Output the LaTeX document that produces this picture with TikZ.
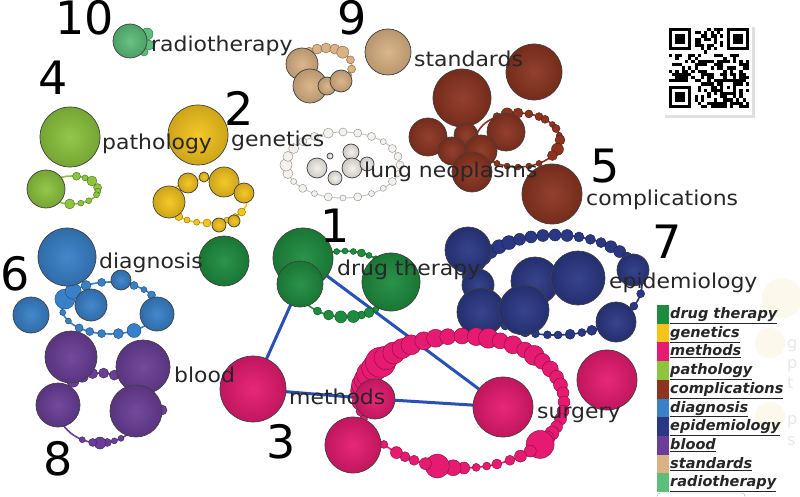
\documentclass[tikz,border=0pt]{standalone}
\usepackage{fontspec}
\setmainfont{DejaVu Sans}
\pgfdeclarelayer{bgl}
\pgfdeclarelayer{edgel}
\pgfsetlayers{bgl,edgel,main}
\definecolor{drugG}{RGB}{30,140,62}
\definecolor{genY}{RGB}{244,196,28}
\definecolor{methP}{RGB}{230,26,112}
\definecolor{pathG}{RGB}{140,196,62}
\definecolor{compR}{RGB}{140,52,32}
\definecolor{diagB}{RGB}{56,128,200}
\definecolor{epiN}{RGB}{42,56,132}
\definecolor{bloodP}{RGB}{106,62,152}
\definecolor{stdT}{RGB}{218,178,132}
\definecolor{radG}{RGB}{92,190,122}
\definecolor{lungW}{RGB}{244,240,235}
\definecolor{lineB}{RGB}{40,80,182}
\definecolor{fadeC}{RGB}{253,248,236}
\newcommand\ballnode[5]{\node[ball=#1, minimum size={2*#5pt}] (#2) at (#3,#4) {};}
\newcommand\beadring[6]{%
  \begin{scope}[shift={(#2,#3)}]
    \draw[ring=#1] (0,0) ellipse [x radius=#4, y radius=#5];
    \foreach \a/\r in {#6} \filldraw[bead=#1] ({#4*cos(\a)},{#5*sin(\a)}) circle [radius=\r pt];
  \end{scope}}
\newcommand\wtxt[1]{\scalebox{1.07}[1]{#1}}
\begin{document}
\begin{tikzpicture}[x=1pt,y=-1pt,
  ball/.style={circle, draw=black!75, line width=0.7pt, inner sep=0pt, outer sep=0pt, inner color=#1!94!white, outer color=#1!84!black},
  ring/.style={draw=#1, line width=1.6pt},
  bead/.style={fill=#1, draw=#1!55!black, line width=0.4pt},
  edge/.style={draw=lineB, line width=3pt},
  lbl/.style={anchor=base west, inner sep=0pt, font=\fontsize{20.5}{22}\selectfont, text=black!85},
  num/.style={anchor=base west, inner sep=0pt, text depth=0pt, font=\fontsize{46}{48}\selectfont, text=black},
  leg/.style={anchor=base west, inner sep=0pt, font=\bfseries\itshape\fontsize{14.5}{16}\selectfont, text=black!85},
  sw/.style={inner sep=0pt, outer sep=0pt, minimum width=12pt, minimum height=18.7pt, anchor=north west}]
\useasboundingbox (0,0) rectangle (800,497);
\begin{pgfonlayer}{bgl}
  \fill[white] (0,0) rectangle (800,497);
\end{pgfonlayer}

% faded overlay at right
\fill[fadeC] (782,298) circle [radius=20pt];
\fill[fadeC] (770,343) circle [radius=15pt];
\fill[fadeC] (770,417) circle [radius=15pt];
\foreach \t/\yy [count=\k] in {g/348,p/368,t/388,p/424,s/445}
  \node[anchor=base west, inner sep=0pt, text=black!9, font=\fontsize{16}{16}\selectfont] (fd\k) at (787,\yy) {\t};

% 10 radiotherapy
\filldraw[bead=radG] (147,34) circle [radius=6pt];
\filldraw[bead=radG] (149,45) circle [radius=5pt];
\filldraw[bead=radG] (144,52) circle [radius=4pt];
\ballnode{radG}{rad1}{130}{41}{17}

% 9 standards
\beadring{stdT}{326}{66}{26}{18}{230/5,250/5,270/5,290/5,310/6,340/4,10/4,30/3}
\ballnode{stdT}{std1}{302}{64}{16}
\ballnode{stdT}{std2}{310}{86}{17}
\ballnode{stdT}{std3}{327}{86}{9}
\ballnode{stdT}{std4}{341}{81}{11}
\ballnode{stdT}{std5}{388}{52}{23}

% 4 pathology
\beadring{pathG}{72}{190}{26}{14}{280/4,300/3,320/5,350/4,5/3,20/3,50/3,70/3,95/5}
\ballnode{pathG}{path1}{70}{137}{30}
\ballnode{pathG}{path2}{46}{189}{19}

% 2 genetics
\beadring{genY}{207}{201}{40}{22}{30/4,45/3,60/3,75/4,90/4,105/3,120/3,135/4}
\ballnode{genY}{gen1}{198}{135}{30}
\ballnode{genY}{gen2}{188}{183}{10}
\ballnode{genY}{gen3}{169}{202}{16}
\ballnode{genY}{gen4}{224}{182}{15}
\ballnode{genY}{gen5}{244}{193}{10}
\ballnode{genY}{gen6}{219}{225}{7}
\ballnode{genY}{gen7}{234}{221}{6}
\ballnode{genY}{gen8}{204}{177}{5}

% lung neoplasms
\begin{scope}[shift={(343,165)}]
  \draw[black!22, line width=1pt] (0,0) ellipse [x radius=57, y radius=33];
  \foreach \a/\r in {0/4,15/3,30/4,45/3,60/3,75/4,90/3,105/4,120/3,135/4,150/3,165/5,180/6,195/5,210/5,225/4,240/4,255/5,270/4,285/4,300/4,315/3,330/4,345/4}
    \filldraw[fill=lungW, draw=black!45, line width=0.4pt] ({57*cos(\a)},{33*sin(\a)}) circle [radius=\r pt];
\end{scope}
\ballnode{lungW}{lung1}{351}{152}{8}
\ballnode{lungW}{lung2}{317}{168}{10}
\ballnode{lungW}{lung3}{352}{168}{10}
\ballnode{lungW}{lung4}{335}{178}{7}
\ballnode{lungW}{lung5}{330}{156}{3}
\ballnode{lungW}{lung6}{367}{164}{7}

% 5 complications
\beadring{compR}{518}{140}{42}{27}{240/4,255/6,270/5,285/4,300/4,310/4,325/3,335/4,350/3,0/5,20/6,35/5,60/3,75/3,90/3,105/3,120/3}
\ballnode{compR}{comp1}{534}{72}{28}
\ballnode{compR}{comp2}{462}{98}{29}
\ballnode{compR}{comp3}{428}{137}{19}
\ballnode{compR}{comp4}{466}{135}{12}
\ballnode{compR}{comp5}{506}{132}{19}
\ballnode{compR}{comp6}{452}{151}{14}
\ballnode{compR}{comp7}{481}{151}{16}
\ballnode{compR}{comp8}{472}{172}{20}
\ballnode{compR}{comp9}{552}{194}{30}

% 1 drug therapy
\beadring{drugG}{345}{284}{48}{33}{40/4,50/3,60/5,70/4,80/6,95/6,110/5,125/4,250/3,260/3,270/3,280/3,290/4,300/3,310/3}
\ballnode{drugG}{dt0}{224}{261}{25}
\ballnode{drugG}{dtB}{303}{258}{30}
\ballnode{drugG}{dtA}{300}{284}{23}
\ballnode{drugG}{dtC}{391}{282}{29}

% 6 diagnosis
\beadring{diagB}{110}{308}{48}{26}{200/10,220/8,240/5,260/4,280/3,300/4,315/3,330/4,350/5,60/7,80/5,100/4,115/4,130/4,150/3,170/3}
\ballnode{diagB}{diag1}{67}{257}{29}
\ballnode{diagB}{diag2}{31}{315}{18}
\ballnode{diagB}{diag3}{91}{305}{16}
\ballnode{diagB}{diag4}{121}{280}{10}
\ballnode{diagB}{diag5}{157}{314}{17}

% 8 blood
\beadring{bloodP}{100}{408}{42}{35}{230/6,245/6,260/5,275/5,290/5,305/4,60/3,70/3,80/4,90/6,100/4,115/3}
\ballnode{bloodP}{bl1}{71}{357}{26}
\ballnode{bloodP}{bl2}{143}{367}{27}
\ballnode{bloodP}{bl3}{58}{405}{22}
\filldraw[bead=bloodP] (162,410) circle [radius=5pt];
\ballnode{bloodP}{bl4}{136}{411}{26}

% 7 epidemiology
\beadring{epiN}{555}{285}{87}{50}{190/7,198/8,206/8,214/8,222/7,230/7,238/7,246/6,254/6,262/6,270/6,278/6,286/5,294/5,302/5,310/6,318/6,326/5,334/5,345/4,355/4,10/4,25/4,40/3,50/4,58/4,65/5,72/4,80/5,88/4,95/4,103/4,110/5,118/4,125/4,133/4,140/4,155/4}
\ballnode{epiN}{epi1}{468}{250}{23}
\ballnode{epiN}{epi2}{478}{285}{16}
\ballnode{epiN}{epi3}{535}{281}{24}
\ballnode{epiN}{epi4}{578}{278}{27}
\ballnode{epiN}{epi5}{481}{312}{24}
\ballnode{epiN}{epi6}{524}{310}{25}
\ballnode{epiN}{epi7}{633}{270}{16}
\ballnode{epiN}{epi8}{616}{322}{20}

% 3 methods
\beadring{methP}{462}{402}{102}{66}{190/11,195/12,200/12,205/13,211/13,217/15,222/12,228/11,234/10,240/10,248/9,255/9,262/8,270/8,278/9,285/10,292/8,300/9,308/8,315/10,322/8,330/8,338/7,345/7,352/6,0/6,8/6,15/6,22/6,28/7,34/8,40/14,48/6,55/6,62/5,70/5,76/4,82/4,89/6,95/8,104/12,111/6,118/5,124/5,130/6,140/4,150/4,158/4,165/4,172/5,180/8}
\ballnode{methP}{meth1}{253}{389}{33}
\ballnode{methP}{meth2}{375}{399}{20}
\ballnode{methP}{surg}{503}{407}{30}
\ballnode{methP}{meth4}{607}{380}{30}
\ballnode{methP}{meth5}{353}{445}{28}

% connectors
\begin{pgfonlayer}{edgel}
  \draw[edge] (dtA) -- (meth1);
  \draw[edge] (dtB) -- (surg);
  \draw[edge] (meth1) -- (meth2);
  \draw[edge] (meth2) -- (surg);
\end{pgfonlayer}

% QR code
\fill[black!12] (665,27) rectangle (755,118);
\fill[white] (663,25) rectangle (752,115);
\pgfmathsetseed{4242}
\foreach \i in {0,...,24} \foreach \j in {0,...,24} {
  \pgfmathrandominteger{\v}{0}{99}
  \ifnum\v<47 \fill ({669+3.2*\i},{28+3.2*\j}) rectangle ++(3.25,3.25);\fi }
\foreach \fx/\fy in {669/28, 726.6/28, 669/85.6} {
  \fill[white] ({\fx-3.2},{\fy-3.2}) rectangle ++(28.8,28.8);
  \fill[black] (\fx,\fy) rectangle ++(22.4,22.4);
  \fill[white] ({\fx+3.2},{\fy+3.2}) rectangle ++(16,16);
  \fill[black] ({\fx+6.4},{\fy+6.4}) rectangle ++(9.6,9.6);
}
\fill[black] (720.2,79.2) rectangle ++(16,16);
\fill[white] (723.4,82.4) rectangle ++(9.6,9.6);
\fill[black] (726.6,85.6) rectangle ++(3.2,3.2);

% legend
\foreach \t/\c [count=\k from 0] in {drug therapy/drugG, genetics/genY, methods/methP, pathology/pathG, complications/compR, diagnosis/diagB, epidemiology/epiN, blood/bloodP, standards/stdT, radiotherapy/radG} {
  \node[sw, fill=\c] (sw\k) at (657,{305+18.7*\k}) {};
  \node[leg] (lg\k) at (670,{318.5+18.7*\k}) {\underline{\t}};
}
\draw[black!35, rounded corners=3pt] (657,493) rectangle (745,510);

% labels
\node[lbl] (tRad) at (151,52) {\wtxt{radiotherapy}};
\node[lbl] (tStd) at (414,67) {\wtxt{standards}};
\node[lbl] (tPath) at (102,150) {\wtxt{pathology}};
\node[lbl] (tGen) at (231,147) {\wtxt{genetics}};
\node[lbl] (tLung) at (364,178) {\wtxt{lung neoplasms}};
\node[lbl] (tComp) at (586,206) {\wtxt{complications}};
\node[lbl] (tDiag) at (99,268) {\wtxt{diagnosis}};
\node[lbl] (tDrug) at (337,275) {\wtxt{drug therapy}};
\node[lbl] (tEpi) at (609,288) {\wtxt{epidemiology}};
\node[lbl] (tBlood) at (174,382) {\wtxt{blood}};
\node[lbl] (tMeth) at (289,404) {\wtxt{methods}};
\node[lbl] (tSurg) at (537,418) {\wtxt{surgery}};

% cluster numbers
\node[num] (n10) at (55,35) {10};
\node[num] (n9) at (337,35) {9};
\node[num] (n4) at (38,95) {4};
\node[num] (n2) at (224,126) {2};
\node[num] (n5) at (590,183) {5};
\node[num] (n1) at (320,242) {1};
\node[num] (n7) at (652,258) {7};
\node[num] (n6) at (0,290) {6};
\node[num] (n8) at (43,475) {8};
\node[num] (n3) at (266,458) {3};
\end{tikzpicture}
\end{document}
